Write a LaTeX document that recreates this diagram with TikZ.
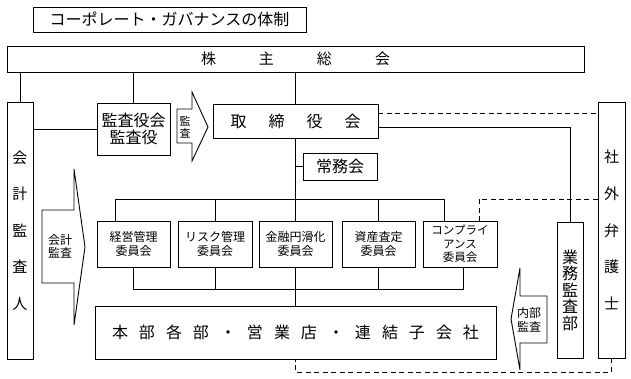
\documentclass[tikz,border=0pt]{standalone}
\usepackage{fontspec}
\setmainfont{Noto Sans CJK JP}
\newcommand{\jg}[1]{\hspace{#1}}
\begin{document}
\begin{tikzpicture}[x=1pt,y=-1pt,
  box/.style={draw, line width=0.9pt, inner sep=0pt, align=center, fill=white},
  ln/.style={line width=0.9pt},
  dsh/.style={line width=0.9pt, dash pattern=on 5pt off 3.5pt},
  lbl/.style={inner sep=0pt, align=center}]
\useasboundingbox (0,0) rectangle (631,379);
% title
\node[box, minimum width=273pt, minimum height=25pt, font=\fontsize{16}{18}\selectfont] (title) at (169.5,19.5) {コーポレート・ガバナンスの体制};
% shareholders
\node[box, minimum width=577pt, minimum height=26pt, font=\fontsize{15}{17}\selectfont] (kabu) at (295.5,59) {株\jg{43pt}主\jg{43pt}総\jg{43pt}会};
% accounting auditor
\node[box, minimum width=26pt, minimum height=257pt, font=\fontsize{15}{36.5}\selectfont] (kaikei) at (20,230.5) {会\\計\\監\\査\\人};
% audit board
\node[box, minimum width=73pt, minimum height=52pt, font=\fontsize{16}{17}\selectfont] (kansa) at (133.5,129) {監査役会\\監査役};
% board of directors
\node[box, minimum width=165pt, minimum height=34pt, font=\fontsize{16}{18}\selectfont] (tori) at (295.5,121) {取\jg{22pt}締\jg{22pt}役\jg{22pt}会};
% outside lawyer
\node[box, minimum width=27pt, minimum height=256pt, font=\fontsize{15}{36.7}\selectfont] (shagai) at (611.5,230) {社\\外\\弁\\護\\士};
% internal audit dept
\node[box, minimum width=26pt, minimum height=136pt, font=\fontsize{16}{16.5}\selectfont] (gyomu) at (570,290) {業\\務\\監\\査\\部};
% executive committee
\node[box, minimum width=74pt, minimum height=27pt, font=\fontsize{16}{18}\selectfont] (jomu) at (340,166.5) {常務会};
% committees
\node[box, minimum width=73pt, minimum height=46pt, font=\fontsize{12}{14}\selectfont] (c1) at (133.5,244) {経営管理\\委員会};
\node[box, minimum width=74pt, minimum height=46pt, font=\fontsize{12}{14}\selectfont] (c2) at (215,244) {リスク管理\\委員会};
\node[box, minimum width=73pt, minimum height=46pt, font=\fontsize{12}{14}\selectfont] (c3) at (295.5,244) {金融円滑化\\委員会};
\node[box, minimum width=73pt, minimum height=46pt, font=\fontsize{12}{14}\selectfont] (c4) at (378.5,244) {資産査定\\委員会};
\node[box, minimum width=74pt, minimum height=46pt, font=\fontsize{11.5}{13.5}\selectfont] (c5) at (460,244) {コンプライ\\アンス\\委員会};
% head office etc.
\node[box, minimum width=401pt, minimum height=53pt, font=\fontsize{16}{18}\selectfont] (honbu) at (295.5,332.5) {本\jg{11pt}部\jg{11pt}各\jg{11pt}部\jg{11pt}・\jg{11pt}営\jg{11pt}業\jg{11pt}店\jg{11pt}・\jg{11pt}連\jg{11pt}結\jg{11pt}子\jg{11pt}会\jg{11pt}社};

% arrows
\draw[ln, fill=white] (177,109) -- (192,109) -- (192,92) -- (208,127) -- (192,161) -- (192,143) -- (177,143) -- cycle;
\node[lbl, font=\fontsize{11}{12}\selectfont] (a1) at (185,127) {監\\査};
\draw[ln, fill=white] (42,210) -- (74,210) -- (74,169) -- (85,247) -- (74,325) -- (74,283) -- (42,283) -- cycle;
\node[lbl, font=\fontsize{12}{13.5}\selectfont] (a2) at (60,246.5) {会計\\監査};
\draw[ln, fill=white] (547,296) -- (520,296) -- (520,268) -- (511,319) -- (520,370) -- (520,343) -- (547,343) -- cycle;
\node[lbl, font=\fontsize{12}{13.5}\selectfont] (a3) at (529,320) {内部\\監査};

% connectors
\draw[ln] (kabu.south -| kaikei) -- (kaikei.north);
\draw[ln] (kabu.south -| kansa) -- (kansa.north);
\draw[ln] (kabu.south -| tori) -- (tori.north);
\draw[ln] (kaikei.east |- kansa.west) -- (kansa.west);
\draw[ln] (tori.south) -- (c3.north);
\draw[ln] (tori.south |- jomu.west) -- (jomu.west);
\coordinate (barL) at (115,199);
\coordinate (barR) at (444,199);
\draw[ln] (barL |- c1.north) -- (barL) -- (barR) -- (barR |- c5.north);
\draw[ln] (c2.north) -- (c2.north |- barL);
\draw[ln] (c4.north) -- (c4.north |- barL);
\coordinate (lowL) at (133.5,289);
\coordinate (lowR) at (463,289);
\draw[ln] (c1.south) -- (lowL) -- (lowR) -- (lowR |- c5.south);
\draw[ln] (c2.south) -- (c2.south |- lowL);
\draw[ln] (c4.south) -- (c4.south |- lowL);
\draw[ln] (c3.south) -- (honbu.north);
\draw[ln] ([yshift=-6pt]tori.east) -| (gyomu.north);
\draw[dsh] ([yshift=8pt]tori.east) -- ([yshift=8pt]tori.east -| shagai.west);
\coordinate (dk) at (479,199);
\draw[dsh] (dk -| shagai.west) -- (dk) -- (dk |- c5.north);
\coordinate (db) at (611.5,372);
\draw[dsh] (shagai.south) -- (db) -- (db -| honbu) -- (honbu.south);
\end{tikzpicture}
\end{document}
